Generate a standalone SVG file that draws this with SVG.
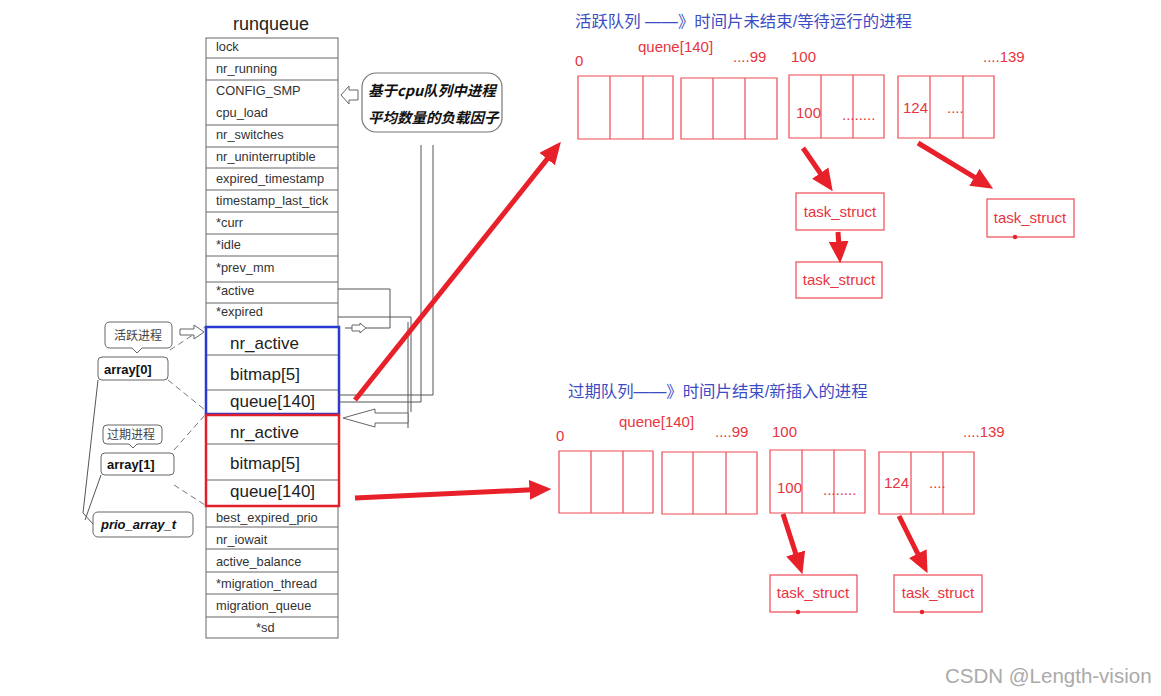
<svg xmlns="http://www.w3.org/2000/svg" width="1161" height="696" viewBox="0 0 1161 696">
<style>
.rq{font-family:"Liberation Sans",Arial,sans-serif;font-size:12.8px;fill:#333}
.big{font-family:"Liberation Sans",Arial,sans-serif;font-size:17px;fill:#222}
.ttl{font-family:"Liberation Sans",Arial,sans-serif;font-size:18px;fill:#222}
.cell{fill:none;stroke:#666;stroke-width:1}
.gl{fill:none;stroke:#555;stroke-width:1}
.dash{fill:none;stroke:#777;stroke-width:1;stroke-dasharray:6 4}
.bub{fill:#fff;stroke:#666;stroke-width:1}
.lbl{font-family:"Liberation Sans",Arial,sans-serif;font-size:13px;font-weight:bold;fill:#111}
.cjk{font-family:"Noto Sans CJK SC",sans-serif;font-size:12px;fill:#444}
.call{font-family:"Noto Sans CJK SC",sans-serif;font-size:14.5px;font-weight:bold;font-style:italic;fill:#111}
.blue{font-family:"Liberation Sans","Noto Sans CJK SC",sans-serif;font-size:16.4px;fill:#3c4cc4}
.rt{font-family:"Liberation Sans",Arial,sans-serif;font-size:15px;fill:#e8343f}
.rb{fill:none;stroke:#ef4a55;stroke-width:1.2}
.ra{stroke:#e8202a;stroke-width:5;fill:none}
.wm{font-family:"Liberation Sans",Arial,sans-serif;font-size:20.5px;fill:#aaa}
</style>
<defs>
<marker id="ah" markerUnits="userSpaceOnUse" markerWidth="22" markerHeight="20" viewBox="0 0 20 18" refX="6" refY="9" orient="auto">
<path d="M0,0 L20,9 L0,18 Z" fill="#e8202a"/>
</marker>
</defs>
<rect width="1161" height="696" fill="#fff"/>

<g id="runqueue">
<text class="ttl" x="233" y="30">runqueue</text>
<rect class="cell" x="206" y="38" width="132" height="600"/>
<path class="cell" d="M206,58H338M206,80H338M206,125H338M206,147H338M206,168H338M206,190H338M206,212H338M206,234H338M206,256H338M206,282H338M206,303H338M206,527H338M206,549H338M206,572H338M206,594H338M206,617H338"/>
<text class="rq" x="216" y="51">lock</text>
<text class="rq" x="216" y="73">nr_running</text>
<text class="rq" x="216" y="95">CONFIG_SMP</text>
<text class="rq" x="216" y="117">cpu_load</text>
<text class="rq" x="216" y="139">nr_switches</text>
<text class="rq" x="216" y="161">nr_uninterruptible</text>
<text class="rq" x="216" y="183">expired_timestamp</text>
<text class="rq" x="216" y="205">timestamp_last_tick</text>
<text class="rq" x="216" y="227">*curr</text>
<text class="rq" x="216" y="249">*idle</text>
<text class="rq" x="216" y="272">*prev_mm</text>
<text class="rq" x="216" y="295">*active</text>
<text class="rq" x="216" y="316">*expired</text>
<text class="rq" x="216" y="522">best_expired_prio</text>
<text class="rq" x="216" y="544">nr_iowait</text>
<text class="rq" x="216" y="566">active_balance</text>
<text class="rq" x="216" y="588">*migration_thread</text>
<text class="rq" x="216" y="610">migration_queue</text>
<text class="rq" x="256" y="632">*sd</text>
</g>

<g id="array0-box">
<rect x="206" y="327" width="133" height="87" fill="#fff" stroke="#2a3ad0" stroke-width="2.5"/>
<path class="cell" d="M207,355H338M207,390H338"/>
<text class="big" x="230" y="349">nr_active</text>
<text class="big" x="230" y="380">bitmap[5]</text>
<text class="big" x="230" y="407">queue[140]</text>
</g>

<g id="array1-box">
<rect x="206" y="415" width="133" height="91" fill="#fff" stroke="#e0202a" stroke-width="2.5"/>
<path class="cell" d="M207,444H338M207,480H338"/>
<text class="big" x="230" y="438">nr_active</text>
<text class="big" x="230" y="469">bitmap[5]</text>
<text class="big" x="230" y="497">queue[140]</text>
</g>

<g id="bubble-active">
<path class="bub" d="M110,322H167Q172,322 172,327V343Q172,348 167,348H142L137,353L132,348H110Q105,348 105,343V327Q105,322 110,322Z"/>
<text class="cjk" x="114" y="340">活跃进程</text>
</g>
<g id="bubble-expired">
<path class="bub" d="M107,425H158Q162,425 162,429V440Q162,444 158,444H137L133,448L129,444H107Q103,444 103,440V429Q103,425 107,425Z"/>
<text class="cjk" x="107" y="439">过期进程</text>
</g>
<g id="array0">
<rect class="bub" x="98" y="357" width="70" height="23" rx="4"/>
<text class="lbl" x="104" y="374">array[0]</text>
</g>
<g id="array1">
<rect class="bub" x="101" y="453" width="73" height="22" rx="4"/>
<text class="lbl" x="107" y="469">array[1]</text>
</g>
<g id="prio_array_t">
<rect class="bub" x="93" y="512" width="100" height="25" rx="5"/>
<text class="lbl" x="101" y="529" font-style="italic">prio_array_t</text>
</g>

<g id="callout">
<rect x="362" y="73" width="140" height="59" rx="14" fill="#fff" stroke="#777" stroke-width="1.2"/>
<text class="call" x="368" y="96">基于cpu队列中进程</text>
<text class="call" x="368" y="123">平均数量的负载因子</text>
</g>

<g id="queue-active">
<text class="blue" x="575" y="27">活跃队列 ——》时间片未结束/等待运行的进程</text>
<text class="rt" x="575" y="66">0</text>
<text class="rt" x="638" y="52">quene[140]</text>
<text class="rt" x="733" y="62">....99</text>
<text class="rt" x="791" y="62">100</text>
<text class="rt" x="983" y="62">....139</text>
<path class="rb" d="M578,76H673V139H578ZM610,76V139M643,76V139"/>
<path class="rb" d="M681,78H777V139H681ZM713,78V139M745,78V139"/>
<path class="rb" d="M789,75H884V138H789ZM821,75V138M853,75V138"/>
<path class="rb" d="M898,76H994V138H898ZM930,76V138M963,76V138"/>
<text class="rt" x="796" y="118">100</text>
<text class="rt" x="842" y="120">........</text>
<text class="rt" x="903" y="113">124</text>
<text class="rt" x="947" y="113">....</text>
</g>
<g id="task-a1"><rect class="rb" x="796" y="193" width="88" height="37"/><text class="rt" x="840" y="217" text-anchor="middle">task_struct</text></g>
<g id="task-a2"><rect class="rb" x="796" y="262" width="86" height="36"/><text class="rt" x="839" y="285" text-anchor="middle">task_struct</text></g>
<g id="task-a3"><rect class="rb" x="987" y="199" width="87" height="38"/><text class="rt" x="1030" y="223" text-anchor="middle">task_struct</text><circle cx="1015" cy="237" r="2.2" fill="#e8202a"/></g>

<g id="queue-expired">
<text class="blue" x="568" y="397">过期队列——》时间片结束/新插入的进程</text>
<text class="rt" x="556" y="441">0</text>
<text class="rt" x="619" y="427">quene[140]</text>
<text class="rt" x="715" y="437">....99</text>
<text class="rt" x="772" y="437">100</text>
<text class="rt" x="963" y="437">....139</text>
<path class="rb" d="M559,451H653V513H559ZM591,451V513M623,451V513"/>
<path class="rb" d="M662,452H757V514H662ZM693,452V514M726,452V514"/>
<path class="rb" d="M770,450H865V513H770ZM802,450V513M834,450V513"/>
<path class="rb" d="M879,452H974V514H879ZM911,452V514M943,452V514"/>
<text class="rt" x="777" y="493">100</text>
<text class="rt" x="823" y="495">........</text>
<text class="rt" x="884" y="488">124</text>
<text class="rt" x="929" y="488">....</text>
</g>
<g id="task-e1"><rect class="rb" x="770" y="575" width="87" height="37"/><text class="rt" x="813" y="598" text-anchor="middle">task_struct</text><circle cx="798" cy="612" r="2.2" fill="#e8202a"/></g>
<g id="task-e2"><rect class="rb" x="894" y="575" width="88" height="37"/><text class="rt" x="938" y="598" text-anchor="middle">task_struct</text><circle cx="922" cy="612" r="2.2" fill="#e8202a"/></g>

<g id="connectors">
<path class="dash" d="M170,350L205,327M168,380L205,410M174,450L205,415M174,485L205,505"/>
<path class="gl" d="M98,380L83,513L93,524M101,475L85,520"/>
<path class="bub" d="M180,329H194V325L204,332L194,339V335H180Z"/>
<path class="bub" d="M358,90H349V86L341,95L349,104V100H358Z"/>
<path class="gl" d="M421,145V402H338M433,145V395H338"/>
<path class="gl" d="M338,289H390V328H345"/>
<path class="bub" d="M352,325H360V323L366,328L360,333V331H352Z"/>
<path class="gl" d="M338,317H411V412M408,322V428"/>
<path class="bub" d="M408,413H375V409L343,418L375,427V423H408Z"/>
<line class="ra" x1="355" y1="400" x2="551.3" y2="153.9" marker-end="url(#ah)"/>
<line class="ra" x1="355" y1="498" x2="536" y2="489.6" marker-end="url(#ah)"/>
<line class="ra" x1="803" y1="148" x2="824" y2="178.5" marker-end="url(#ah)"/>
<line class="ra" x1="918" y1="143" x2="980" y2="180.7" marker-end="url(#ah)"/>
<line class="ra" x1="838" y1="232" x2="839.1" y2="248" marker-end="url(#ah)"/>
<line class="ra" x1="783" y1="514" x2="797.7" y2="559.7" marker-end="url(#ah)"/>
<line class="ra" x1="899" y1="516" x2="920.7" y2="559.5" marker-end="url(#ah)"/>
</g>

<text class="wm" x="945" y="683">CSDN @Length-vision</text>
</svg>
